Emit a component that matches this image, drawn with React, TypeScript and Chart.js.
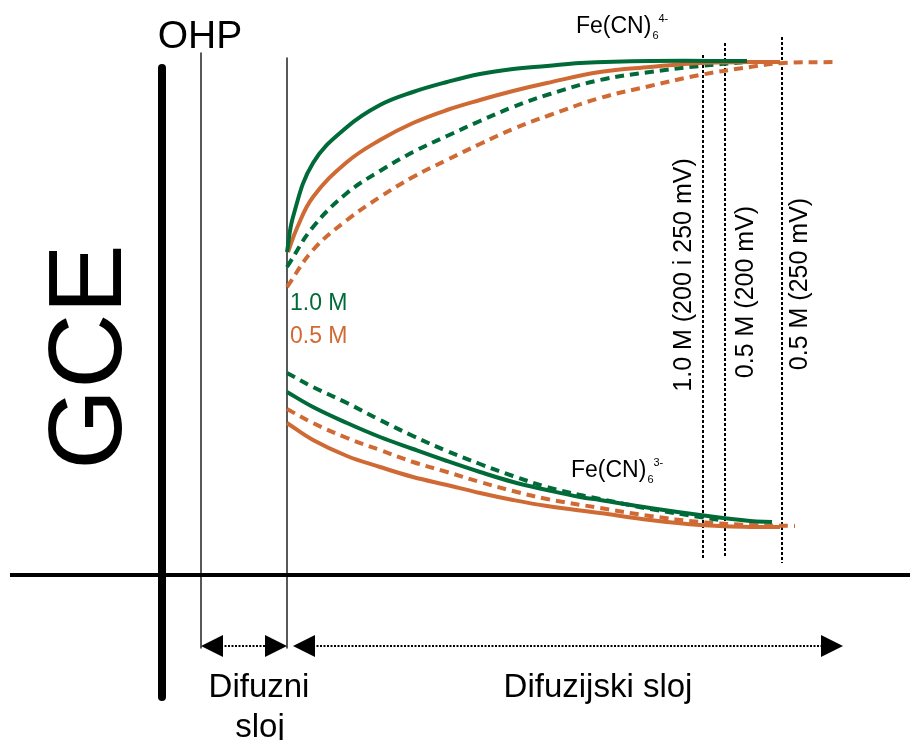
import { useEffect, useRef } from "react";
import { Chart, registerables } from "chart.js";

Chart.register(...registerables);

const GREEN = "#006B38";
const ORANGE = "#D06A34";
const FONT = "'Liberation Sans', Arial, Helvetica, sans-serif";

// d = distance from the electrode surface, c = concentration height above the baseline
// Fe(CN)6 4- (upper family)
const ferroGreenSolidD = [125, 131, 151, 185, 218, 251, 285, 318, 351, 385, 418, 488, 585];
const ferroGreenSolidC = [323, 358, 412, 448, 470, 483, 493, 501, 506, 509, 512, 514, 514];
const ferroOrangeSolidD = [126, 135, 151, 185, 218, 251, 285, 318, 351, 385, 438, 488, 538, 588, 618];
const ferroOrangeSolidC = [323, 347, 378, 413, 435, 452, 465, 475, 484, 492, 503, 508, 512, 513, 513];
const ferroGreenDashD = [125, 151, 185, 218, 251, 285, 318, 351, 388, 438, 488, 538, 585];
const ferroGreenDashC = [308, 348, 382, 404, 423, 439, 454, 468, 481, 495, 503, 509, 513];
const ferroOrangeDashD = [125, 151, 185, 218, 251, 285, 318, 351, 388, 438, 488, 538, 588, 621, 675];
const ferroOrangeDashC = [288, 325, 355, 378, 398, 415, 431, 446, 460, 477, 489, 500, 508, 512, 513];

// Fe(CN)6 3- (lower family)
const ferriGreenDashD = [125, 151, 185, 218, 251, 285, 318, 351, 385, 418, 438, 488, 538, 558];
const ferriGreenDashC = [202, 188, 172, 155, 139, 124, 111, 99, 88, 80, 76, 66, 58, 55];
const ferriGreenSolidD = [125, 151, 185, 218, 251, 285, 318, 351, 385, 418, 438, 488, 538, 588, 610];
const ferriGreenSolidC = [183, 168, 152, 138, 126, 114, 103, 93, 85, 78, 75, 67, 60, 54, 53];
const ferriOrangeDashD = [125, 151, 185, 218, 251, 285, 318, 351, 385, 438, 488, 538, 588, 633];
const ferriOrangeDashC = [166, 152, 137, 125, 113, 103, 93, 84, 76, 67, 59, 53, 50, 49];
const ferriOrangeSolidD = [125, 151, 185, 218, 251, 285, 318, 351, 385, 438, 488, 538, 588, 618];
const ferriOrangeSolidC = [152, 135, 119, 108, 98, 90, 82, 75, 69, 62, 55, 50, 48, 48];

// structural elements
const baselineD = [-152, 748];
const electrodeD = 0;
const electrodeC = [507, -122];
const ohpD = 39;
const ohpC = [522, -73];
const diffuseEdgeD = 125;
const diffuseEdgeC = [517, -73];
const thicknessD = [541, 563, 620];
const thicknessTopC = [520, 532, 538];
const thicknessBottomC = [15, 18, 12];
const thicknessLabels = ["1.0 M (200 i 250 mV)", "0.5 M (200 mV)", "0.5 M (250 mV)"];
const arrowC = -71;
const arrowStartD = [39, 131];
const arrowEndD = [125, 681];

const X_MIN = -162;
const X_MAX = 748;
const Y_MIN = -165;
const Y_MAX = 575;

function pts(d: number[], c: number[]) {
  return d.map((v, i) => ({ x: v, y: c[i] }));
}

function curve(label: string, d: number[], c: number[], color: string, dashed: boolean) {
  return {
    label,
    data: pts(d, c),
    showLine: true,
    borderColor: color,
    backgroundColor: color,
    borderWidth: 4,
    borderDash: dashed ? [9, 6] : [],
    pointRadius: 0,
    tension: 0.4,
    fill: false,
  };
}

function straight(label: string, data: { x: number; y: number }[], width: number, dash: number[] = [], color = "#000") {
  return {
    label,
    data,
    showLine: true,
    borderColor: color,
    backgroundColor: color,
    borderWidth: width,
    borderDash: dash,
    pointRadius: 0,
    tension: 0,
    fill: false,
    borderCapStyle: "butt" as const,
  };
}

const annotationPlugin = {
  id: "annotations",
  afterDatasetsDraw(chart: any) {
    const ctx = chart.ctx as CanvasRenderingContext2D;
    const xs = chart.scales.x;
    const ys = chart.scales.y;
    const px = (v: number) => xs.getPixelForValue(v);
    const py = (v: number) => ys.getPixelForValue(v);
    ctx.save();

    // arrow heads
    ctx.fillStyle = "#000";
    const head = 22;
    const half = 11;
    arrowStartD.forEach((s, i) => {
      const e = arrowEndD[i];
      const y = py(arrowC);
      const x1 = px(s);
      const x2 = px(e);
      ctx.beginPath();
      ctx.moveTo(x1, y);
      ctx.lineTo(x1 + head, y - half);
      ctx.lineTo(x1 + head, y + half);
      ctx.closePath();
      ctx.fill();
      ctx.beginPath();
      ctx.moveTo(x2, y);
      ctx.lineTo(x2 - head, y - half);
      ctx.lineTo(x2 - head, y + half);
      ctx.closePath();
      ctx.fill();
    });

    const text = (
      t: string,
      x: number,
      y: number,
      size: number,
      color = "#000",
      align: CanvasTextAlign = "left",
      baseline: CanvasTextBaseline = "alphabetic",
      rotate = false
    ) => {
      ctx.save();
      ctx.font = `${size}px ${FONT}`;
      ctx.fillStyle = color;
      ctx.textAlign = align;
      ctx.textBaseline = baseline;
      ctx.translate(x, y);
      if (rotate) ctx.rotate(-Math.PI / 2);
      ctx.fillText(t, 0, 0);
      ctx.restore();
    };

    // GCE
    text("GCE", px(-70), py(218), 104, "#000", "center", "middle", true);
    // OHP
    text("OHP", px(38), py(527), 39, "#000", "center");

    // species labels with sub/superscripts
    const species = (x: number, y: number, charge: string) => {
      ctx.save();
      ctx.font = `23px ${FONT}`;
      ctx.fillStyle = "#000";
      ctx.textAlign = "left";
      ctx.textBaseline = "alphabetic";
      ctx.fillText("Fe(CN)", x, y);
      const w = ctx.measureText("Fe(CN)").width;
      ctx.font = `11px ${FONT}`;
      ctx.fillText("6", x + w + 1, y + 6);
      ctx.fillText(charge, x + w + 7, y - 11);
      ctx.restore();
    };
    species(px(414), py(542), "4-");
    species(px(409), py(98), "3-");

    // concentration legend
    text("1.0 M", px(128), py(265), 23, GREEN);
    text("0.5 M", px(128), py(232), 23, ORANGE);

    // thickness labels (rotated)
    const labelD = [522, 584, 638];
    const labelC = [300, 283, 291];
    thicknessLabels.forEach((t, i) => {
      text(t, px(labelD[i]), py(labelC[i]), 25, "#000", "center", "middle", true);
    });

    // layer names
    text("Difuzni", px(97), py(-122), 33, "#000", "center");
    text("sloj", px(98), py(-162), 33, "#000", "center");
    text("Difuzijski sloj", px(436), py(-122), 33, "#000", "center");

    ctx.restore();
  },
};

export default function App() {
  const ref = useRef<HTMLCanvasElement | null>(null);

  useEffect(() => {
    if (!ref.current) return;
    const datasets: any[] = [
      curve("Fe(CN)6 4- 1.0 M", ferroGreenSolidD, ferroGreenSolidC, GREEN, false),
      curve("Fe(CN)6 4- 0.5 M", ferroOrangeSolidD, ferroOrangeSolidC, ORANGE, false),
      curve("Fe(CN)6 4- 1.0 M dashed", ferroGreenDashD, ferroGreenDashC, GREEN, true),
      curve("Fe(CN)6 4- 0.5 M dashed", ferroOrangeDashD, ferroOrangeDashC, ORANGE, true),
      curve("Fe(CN)6 3- 1.0 M dashed", ferriGreenDashD, ferriGreenDashC, GREEN, true),
      curve("Fe(CN)6 3- 1.0 M", ferriGreenSolidD, ferriGreenSolidC, GREEN, false),
      curve("Fe(CN)6 3- 0.5 M dashed", ferriOrangeDashD, ferriOrangeDashC, ORANGE, true),
      curve("Fe(CN)6 3- 0.5 M", ferriOrangeSolidD, ferriOrangeSolidC, ORANGE, false),
      straight("baseline", baselineD.map((d) => ({ x: d, y: 0 })), 4),
      straight("GCE", electrodeC.map((c) => ({ x: electrodeD, y: c })), 8),
      straight("OHP", ohpC.map((c) => ({ x: ohpD, y: c })), 1.5, [], "#222"),
      straight("diffuse edge", diffuseEdgeC.map((c) => ({ x: diffuseEdgeD, y: c })), 1.5, [], "#222"),
    ];
    thicknessD.forEach((d, i) => {
      datasets.push(
        straight(thicknessLabels[i], [
          { x: d, y: thicknessTopC[i] },
          { x: d, y: thicknessBottomC[i] },
        ], 2, [3, 2])
      );
    });
    arrowStartD.forEach((s, i) => {
      datasets.push(
        straight("arrow " + i, [
          { x: s + 20, y: arrowC },
          { x: arrowEndD[i] - 20, y: arrowC },
        ], 2, [2, 1.5])
      );
    });

    const chart = new Chart(ref.current, {
      type: "scatter",
      data: { datasets },
      options: {
        animation: false,
        responsive: false,
        maintainAspectRatio: false,
        devicePixelRatio: 1,
        layout: { padding: 0 },
        plugins: { legend: { display: false }, tooltip: { enabled: false } },
        scales: {
          x: { type: "linear", min: X_MIN, max: X_MAX, display: false },
          y: { type: "linear", min: Y_MIN, max: Y_MAX, display: false },
        },
        elements: { line: { borderJoinStyle: "round" } },
      } as any,
      plugins: [annotationPlugin],
    });
    return () => chart.destroy();
  }, []);

  return (
    <div style={{ position: "fixed", left: 0, top: 0, width: 910, height: 740, background: "#fff" }}>
      <canvas ref={ref} width={910} height={740} style={{ width: 910, height: 740, display: "block" }} />
    </div>
  );
}
